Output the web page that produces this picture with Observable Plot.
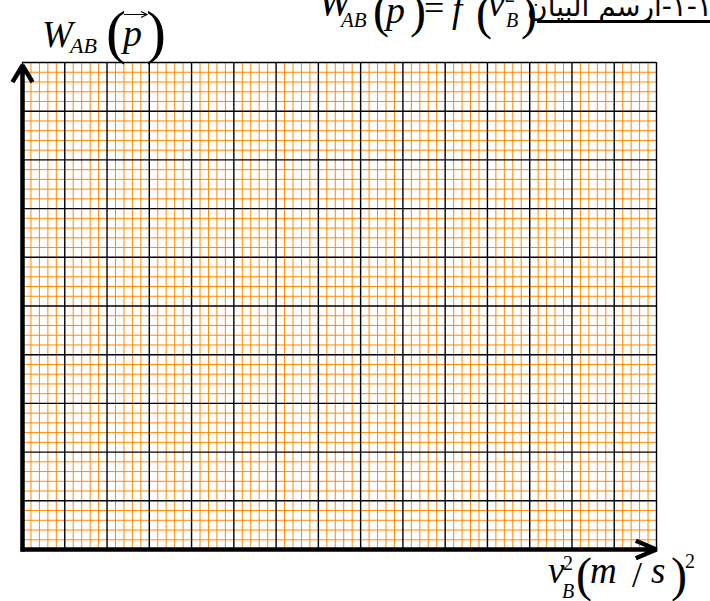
<!DOCTYPE html>
<html>
<head>
<meta charset="utf-8">
<script src="https://cdn.jsdelivr.net/npm/d3@7"></script>
<script src="https://cdn.jsdelivr.net/npm/@observablehq/plot@0.6"></script>
<style>
  body { margin: 0; background: #fff; overflow: hidden; }
</style>
</head>
<body>
<div id="chart"></div>
<script>
// Graph paper for plotting W_AB(p) against v_B^2
const xCells = 15;          // large squares along v_B^2
const yCells = 10;          // large squares along W_AB
const subdivisions = 5;     // small squares per large square

const majorX = d3.range(0, xCells + 1);
const majorY = d3.range(0, yCells + 1);
const minorX = d3.range(0, xCells * subdivisions + 1).filter(i => i % subdivisions).map(i => i / subdivisions);
const minorY = d3.range(0, yCells * subdivisions + 1).filter(i => i % subdivisions).map(i => i / subdivisions);

const xAxisArrow = [{x1: 0, y1: 0, x2: xCells, y2: 0}];
const yAxisArrow = [{x1: 0, y1: 0, x2: 0, y2: yCells}];

const orange = "#ff8a00";

const plot = Plot.plot({
  width: 710,
  height: 601,
  marginLeft: 22,
  marginRight: 54,
  marginTop: 62,
  marginBottom: 52,
  x: {domain: [0, xCells], axis: null},
  y: {domain: [0, yCells], axis: null},
  marks: [
    Plot.ruleX(minorX, {stroke: orange, strokeWidth: 1}),
    Plot.ruleY(minorY, {stroke: orange, strokeWidth: 1}),
    Plot.ruleX(majorX, {stroke: "#000", strokeWidth: 1.4}),
    Plot.ruleY(majorY, {stroke: "#000", strokeWidth: 1.4}),
    Plot.arrow(xAxisArrow, {
      x1: "x1", y1: "y1", x2: "x2", y2: "y2",
      stroke: "#000", strokeWidth: 4.5, headLength: 7.5, headAngle: 46,
      strokeLinecap: "butt", strokeLinejoin: "miter", insetStart: -2
    }),
    Plot.arrow(yAxisArrow, {
      x1: "x1", y1: "y1", x2: "x2", y2: "y2",
      stroke: "#000", strokeWidth: 4.5, headLength: 6.5, headAngle: 62,
      strokeLinecap: "butt", strokeLinejoin: "miter", insetEnd: 3, insetStart: -2
    })
  ]
});

document.getElementById("chart").append(plot);

// Axis titles and heading, set as math-style text on the plot's SVG
const svg = d3.select(plot);
const sx = plot.scale("x").apply, sy = plot.scale("y").apply;
const frameLeft = sx(0), frameRight = sx(xCells), frameTop = sy(yCells), frameBottom = sy(0);

function put(txt, x, y, size, italic = true) {
  return svg.append("text")
    .attr("x", x).attr("y", y)
    .attr("text-anchor", "start")
    .attr("font-family", "'Liberation Serif', 'Times New Roman', serif")
    .attr("font-size", size)
    .attr("font-style", italic ? "italic" : "normal")
    .attr("fill", "#000")
    .text(txt);
}

// y-axis title: W_AB( p⃗ )
put("W", frameLeft + 20, frameTop - 15, 37);
put("AB", frameLeft + 48, frameTop - 9, 22);
put("(", frameLeft + 84, frameTop - 10, 60, false);
put("p", frameLeft + 101, frameTop - 16, 38);
put(")", frameLeft + 124, frameTop - 10, 60, false);
// vector arrow over p
svg.append("path")
  .attr("d", `M${frameLeft + 102},${frameTop - 47.5}H${frameLeft + 124}M${frameLeft + 119},${frameTop - 50.5}L${frameLeft + 125},${frameTop - 47.5}L${frameLeft + 119},${frameTop - 44.5}`)
  .attr("fill", "none").attr("stroke", "#000").attr("stroke-width", 1.2);

// x-axis title: v_B^2 (m/s)^2
put("v", frameRight - 108, frameBottom + 34, 37);
put("2", frameRight - 93, frameBottom + 21, 20, false);
put("B", frameRight - 94, frameBottom + 49, 20);
put("(", frameRight - 80, frameBottom + 42, 48, false);
put("m", frameRight - 66, frameBottom + 34, 37);
put("/", frameRight - 24, frameBottom + 38, 36, false);
put("s", frameRight - 5, frameBottom + 34, 37);
put(")", frameRight + 15, frameBottom + 42, 48, false);
put("2", frameRight + 29, frameBottom + 19, 20, false);

// heading line (runs off the top of the page)
put("W", 318, 15, 40);
put("AB", 341, 27, 21);
put("(", 373, 27, 48, false);
put("p", 386, 23, 38);
put(")", 410, 27, 48, false);
put("=", 424, 20, 36, false);
put("f", 452, 22, 37);
put("(", 476, 29, 48, false);
put("v", 488, 16, 37);
put("2", 505, 2, 20, false);
put("B", 506, 27, 20);
put(")", 521, 29, 48, false);
svg.append("text")
  .attr("x", 712).attr("y", 16)
  .attr("direction", "rtl")
  .attr("text-anchor", "start")
  .attr("font-family", "'DejaVu Sans', 'Noto Sans', sans-serif")
  .attr("font-size", 28)
  .attr("fill", "#000")
  .text("١-١-ارسم البيان");
svg.append("line")
  .attr("x1", 537).attr("x2", 712).attr("y1", 21.5).attr("y2", 21.5)
  .attr("stroke", "#000").attr("stroke-width", 3);
</script>
</body>
</html>
